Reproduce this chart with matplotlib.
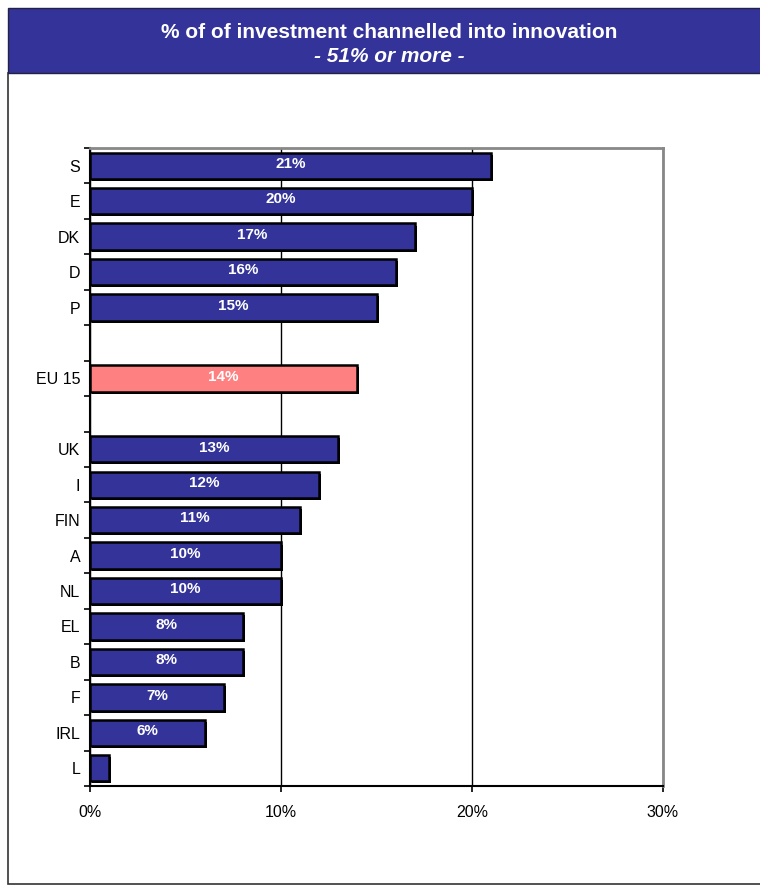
import numpy as np
import matplotlib.pyplot as plt
import matplotlib.patheffects as pe
from matplotlib.patches import Rectangle

# Data (top to bottom), None marks an empty slot
countries = ['S', 'E', 'DK', 'D', 'P', None, 'EU 15', None,
             'UK', 'I', 'FIN', 'A', 'NL', 'EL', 'B', 'F', 'IRL', 'L']
values = [21, 20, 17, 16, 15, None, 14, None,
          13, 12, 11, 10, 10, 8, 8, 7, 6, 1]
labels = ['21%', '20%', '17%', '16%', '15%', None, '14%', None,
          '13%', '12%', '11%', '10%', '10%', '8%', '8%', '7%', '6%', '']

navy = '#333399'
pink = '#FF8080'

plt.rcParams['font.family'] = ['Liberation Sans', 'DejaVu Sans']

fig = plt.figure(figsize=(7.6, 8.86), dpi=100)

# outer frame and title banner (behind the axes)
fig.patches.append(Rectangle((8 / 760, 2 / 886), 1.0, 1 - 75 / 886, transform=fig.transFigure,
                             facecolor='white', edgecolor='#333333', linewidth=1.2, zorder=-2))
fig.patches.append(Rectangle((8 / 760, 1 - 73 / 886), 1.0, 65 / 886, transform=fig.transFigure,
                             facecolor=navy, edgecolor='#222244', linewidth=1, zorder=-1))
fig.text(389 / 760, 1 - 32 / 886, '% of of investment channelled into innovation',
         color='white', fontsize=15, fontweight='bold', ha='center', va='center')
fig.text(389 / 760, 1 - 57 / 886, '- 51% or more -', color='white', fontsize=15,
         fontweight='bold', fontstyle='italic', ha='center', va='center')

ax = fig.add_axes([90 / 760, 1 - 786 / 886, 573 / 760, 638 / 886])
ax.patch.set_alpha(0)

n = len(countries)
ypos = np.arange(n)
for i in range(n):
    if values[i] is None:
        continue
    color = pink if countries[i] == 'EU 15' else navy
    bar = ax.barh(ypos[i], values[i], height=0.74, color=color, edgecolor='black',
                  linewidth=1.8, zorder=3)
    for p in bar:
        p.set_path_effects([pe.SimplePatchShadow(offset=(1.5, -1.5), shadow_rgbFace='black',
                                                 alpha=1), pe.Normal()])
    if labels[i]:
        ax.text(values[i] / 2, ypos[i] - 0.05, labels[i], color='white', fontsize=11,
                fontweight='bold', ha='center', va='center', zorder=4)

ax.set_xlim(0, 30)
ax.set_ylim(n - 0.5, -0.5)
ax.set_xticks([0, 10, 20, 30])
ax.set_xticklabels(['0%', '10%', '20%', '30%'], fontsize=11.5)
ax.tick_params(axis='x', length=4, width=1.2, pad=10, colors='black')

ax.set_yticks([i for i in range(n) if countries[i] is not None])
ax.set_yticklabels([c for c in countries if c is not None], fontsize=11.5)
ax.set_yticks(np.arange(-0.5, n, 1), minor=True)
ax.tick_params(axis='y', which='major', length=0, pad=7)
ax.tick_params(axis='y', which='minor', length=4, width=1.2)

ax.grid(axis='x', color='black', linewidth=1, zorder=0)
ax.spines['left'].set_linewidth(1.5)
ax.spines['bottom'].set_linewidth(1.5)
ax.spines['top'].set_color('#888888')
ax.spines['right'].set_color('#888888')
ax.spines['top'].set_linewidth(2)
ax.spines['right'].set_linewidth(2)

fig.savefig('out.png', dpi=100)
